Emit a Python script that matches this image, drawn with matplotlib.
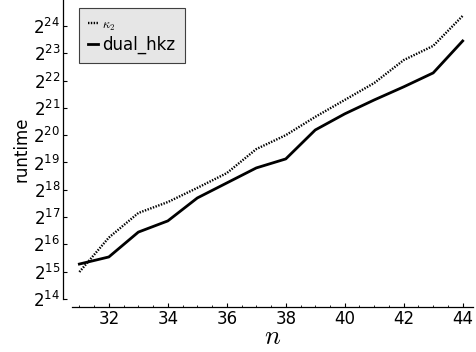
import matplotlib
matplotlib.use("Agg")
import matplotlib.pyplot as plt
from matplotlib.ticker import MultipleLocator, FixedLocator

# dimension n
n = [31, 32, 33, 34, 35, 36, 37, 38, 39, 40, 41, 42, 43, 44]

# log2 of runtime
kappa2_log2 = [14.99, 16.25, 17.15, 17.55, 18.07, 18.61, 19.49, 20.0,
               20.67, 21.29, 21.91, 22.75, 23.27, 24.37]
hkz_log2 = [15.28, 15.54, 16.45, 16.86, 17.70, 18.25, 18.80, 19.13,
            20.19, 20.78, 21.29, 21.77, 22.28, 23.45]

kappa2 = [2 ** v for v in kappa2_log2]
hkz = [2 ** v for v in hkz_log2]

plt.rcParams['mathtext.fontset'] = 'cm'

fig = plt.figure(figsize=(4.77, 3.52), dpi=100)
ax = fig.add_axes([72 / 477, 1 - 299 / 352, 401 / 477, 299 / 352])

ax.plot(n, kappa2, color='black', lw=1.7, linestyle=(0, (0.6, 0.6)),
        label=r'$\kappa_2$')
ax.plot(n, hkz, color='black', lw=2.0, label='dual_hkz')

ax.set_yscale('log', base=2)
ax.set_ylim(2 ** 14, 2 ** 24.95)
ax.set_xlim(30.75, 44.35)

ax.yaxis.set_major_locator(FixedLocator([2 ** k for k in range(14, 25)]))
ax.yaxis.set_minor_locator(FixedLocator([]))
ax.xaxis.set_major_locator(MultipleLocator(2))
ax.xaxis.set_minor_locator(MultipleLocator(0.5))

for s in ['top', 'right']:
    ax.spines[s].set_visible(False)
ax.spines['left'].set_position(('outward', 6.5))
ax.spines['bottom'].set_position(('outward', 5.8))
ax.spines['left'].set_linewidth(0.9)
ax.spines['bottom'].set_linewidth(0.9)

ax.tick_params(axis='both', which='major', direction='in', length=3,
               width=0.8, labelsize=12, pad=2)
ax.tick_params(axis='x', which='minor', direction='in', length=1.5, width=0.6)

ax.set_xlabel('$n$', fontsize=19, labelpad=-3)
ax.set_ylabel('runtime', fontsize=12, labelpad=2)

leg = ax.legend(loc='upper left', bbox_to_anchor=(7 / 401, 1 - 8 / 299),
                borderaxespad=0, fancybox=False, framealpha=1,
                facecolor='#e6e6e6', edgecolor='#404040',
                handlelength=0.6, handletextpad=0.25, borderpad=0.55,
                labelspacing=0.15, fontsize=12)
leg.get_frame().set_linewidth(0.8)
leg.get_texts()[0].set_fontsize(9)

fig.savefig('out.png', dpi=100)
